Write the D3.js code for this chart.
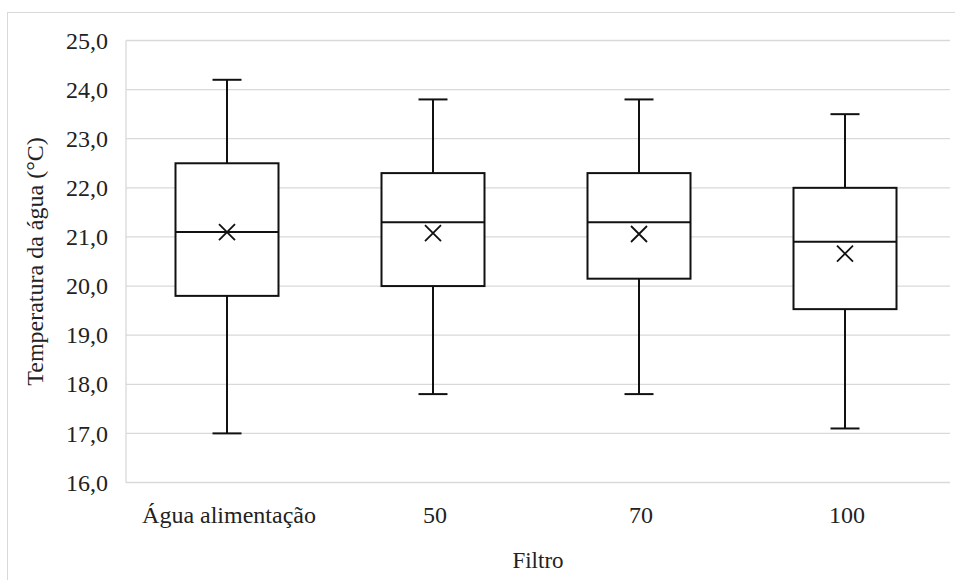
<!DOCTYPE html>
<html><head><meta charset="utf-8">
<script src="https://cdn.jsdelivr.net/npm/d3@7"></script>
<style>body{margin:0;background:#fff}svg{display:block}</style>
</head><body>
<svg id="c" width="955" height="580"></svg>
<script>
const categories = ["Água alimentação", "50", "70", "100"];
const whiskerLow = [17.0, 17.8, 17.8, 17.1];
const q1 = [19.8, 20.0, 20.15, 19.53];
const median = [21.1, 21.3, 21.3, 20.9];
const q3 = [22.5, 22.3, 22.3, 22.0];
const whiskerHigh = [24.2, 23.8, 23.8, 23.5];
const means = [21.1, 21.08, 21.06, 20.66];
const yTicks = [16, 17, 18, 19, 20, 21, 22, 23, 24, 25];

const data = categories.map((c, i) => ({c, lo: whiskerLow[i], q1: q1[i], med: median[i], q3: q3[i], hi: whiskerHigh[i], mean: means[i]}));

const FONT = "'Liberation Serif', 'Times New Roman', serif";
const svg = d3.select("#c");
const L = 126, R = 950, T = 40.5, B = 482.5;

svg.append("rect").attr("x", 7.5).attr("y", 12.5).attr("width", 1000).attr("height", 700)
  .attr("fill", "none").attr("stroke", "#d9d9d9").attr("stroke-width", 1);

const x = d3.scaleBand().domain(categories).range([L, R]);
const y = d3.scaleLinear().domain([16, 25]).range([B, T]);

// grid
svg.append("g").selectAll("line").data(yTicks).join("line")
  .attr("x1", L).attr("x2", R).attr("y1", d => y(d)).attr("y2", d => y(d))
  .attr("stroke", "#d9d9d9").attr("stroke-width", 1.3);
svg.append("line").attr("x1", L).attr("x2", L).attr("y1", T).attr("y2", B)
  .attr("stroke", "#d9d9d9").attr("stroke-width", 1.3);

// y axis labels
const fmt = d => d.toFixed(1).replace(".", ",");
const yAxis = d3.axisLeft(y).tickValues(yTicks).tickFormat(fmt).tickSize(0).tickPadding(18);
const gy = svg.append("g").attr("transform", `translate(${L},0)`).call(yAxis);
gy.select(".domain").remove();
gy.selectAll("text").style("font-size", "24px").style("font-family", FONT).style("fill", "#222");

// x axis labels
const xAxis = d3.axisBottom(x).tickSize(0).tickPadding(23);
const gx = svg.append("g").attr("transform", `translate(0,${B})`).call(xAxis);
gx.select(".domain").remove();
gx.selectAll("text").style("font-size", "24px").style("font-family", FONT).style("fill", "#222");

// titles
svg.append("text").attr("x", (L + R) / 2).attr("y", 568).attr("text-anchor", "middle")
  .style("font-size", "23px").style("font-family", FONT).style("fill", "#222").text("Filtro");
svg.append("text").attr("transform", `translate(43,${(T + B) / 2}) rotate(-90)`).attr("text-anchor", "middle")
  .style("font-size", "24px").style("font-family", FONT).style("fill", "#222").text("Temperatura da água (°C)");

// boxes
const bw = x.bandwidth() * 0.5, cap = 29, xm = 8;
const g = svg.append("g").attr("stroke", "#111").attr("stroke-width", 2).attr("fill", "none");
const box = g.selectAll("g").data(data).join("g")
  .attr("transform", d => `translate(${x(d.c) + x.bandwidth() / 2 - 2},0)`);
box.append("line").attr("x1", 0).attr("x2", 0).attr("y1", d => y(d.hi)).attr("y2", d => y(d.q3));
box.append("line").attr("x1", 0).attr("x2", 0).attr("y1", d => y(d.q1)).attr("y2", d => y(d.lo));
box.append("line").attr("x1", -cap / 2).attr("x2", cap / 2).attr("y1", d => y(d.hi)).attr("y2", d => y(d.hi));
box.append("line").attr("x1", -cap / 2).attr("x2", cap / 2).attr("y1", d => y(d.lo)).attr("y2", d => y(d.lo));
box.append("rect").attr("x", -bw / 2).attr("width", bw).attr("y", d => y(d.q3)).attr("height", d => y(d.q1) - y(d.q3)).attr("fill", "#fff");
box.append("line").attr("x1", -bw / 2).attr("x2", bw / 2).attr("y1", d => y(d.med)).attr("y2", d => y(d.med));
box.append("path").attr("stroke-width", 1.8)
  .attr("d", d => { const cy = y(d.mean); return `M${-xm},${cy - xm}L${xm},${cy + xm}M${-xm},${cy + xm}L${xm},${cy - xm}`; });
</script>
</body></html>
